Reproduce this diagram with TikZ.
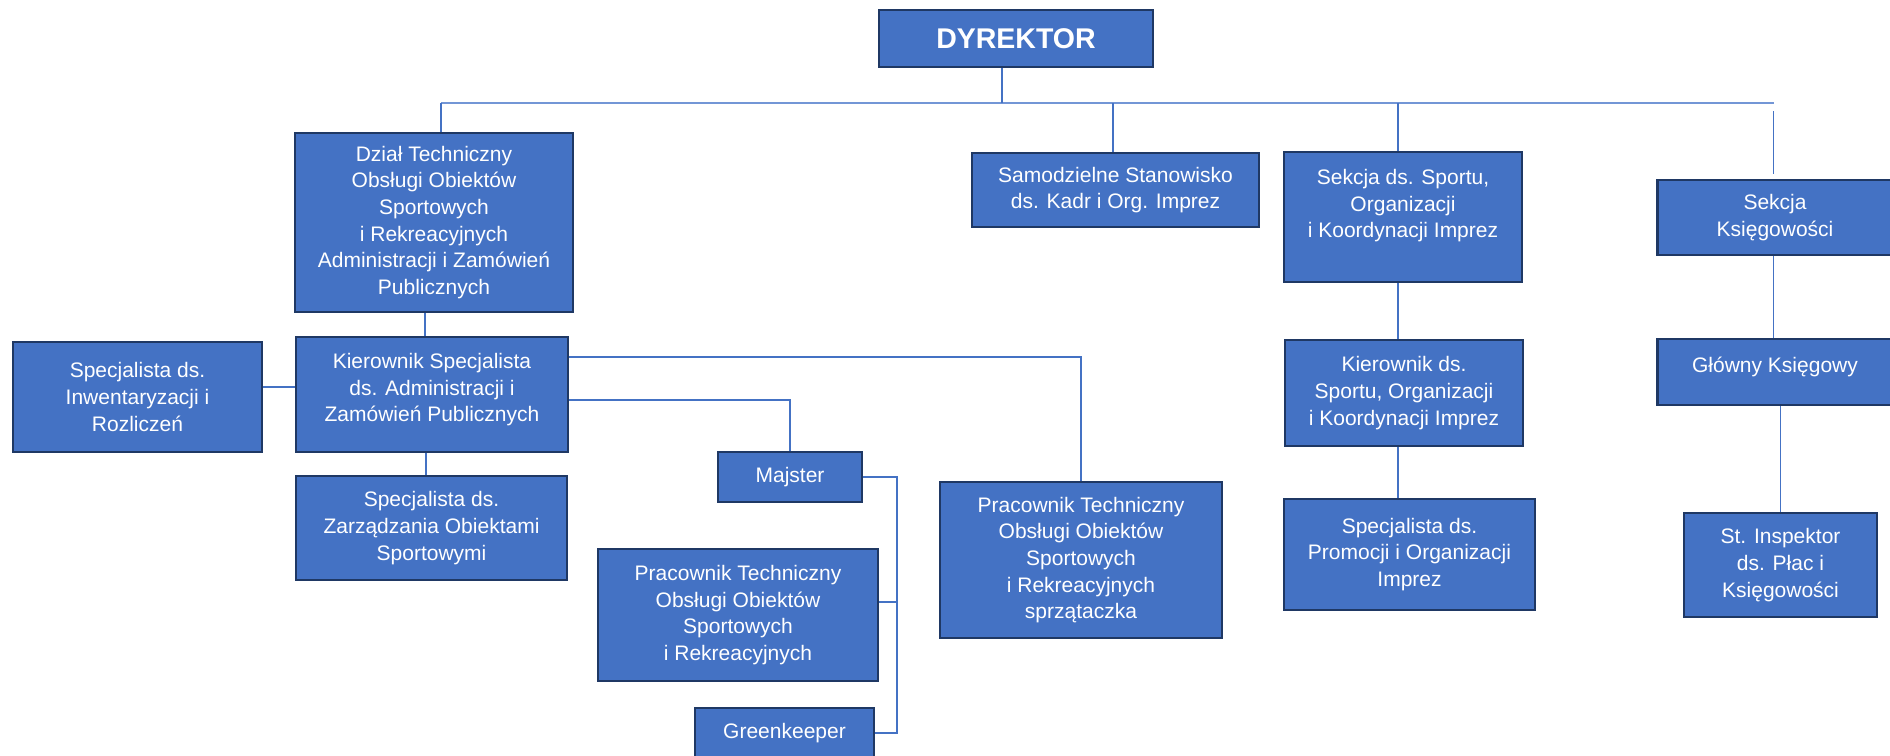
\documentclass[tikz,border=0pt]{standalone}
\usepackage{fontspec}
\setmainfont{Liberation Sans}
\definecolor{boxfill}{HTML}{4472C4}
\definecolor{boxline}{HTML}{1F3864}
\definecolor{conn}{HTML}{4472C4}
\definecolor{busconn}{HTML}{7396D6}
\begin{document}
\begin{tikzpicture}[x=0.5pt,y=-0.5pt,
  orgbox/.style={draw=boxline, line width=1.3pt, fill=boxfill, text=white, align=center,
    inner sep=0pt, font=\fontsize{10.5}{13.35}\selectfont},
  link/.style={draw=conn, line width=0.75pt},
  buslink/.style={draw=busconn, line width=1pt}]
\path[use as bounding box] (0,0) rectangle (1890,755);

% nodes
\node[orgbox, minimum width=137pt, minimum height=28.5pt, font=\bfseries\fontsize{14.25}{16}\selectfont] (dyr) at (1016,38.5) {DYREKTOR};
\node[orgbox, minimum width=139pt, minimum height=89.5pt] (dzial) at (434,222.5) {Dział Techniczny\\Obsługi Obiektów\\Sportowych\\ i Rekreacyjnych\\Administracji i Zamówień\\Publicznych};
\node[orgbox, minimum width=136pt, minimum height=57.5pt] (kier) at (432,394.5) {Kierownik Specjalista\\ds. Administracji i\\Zamówień Publicznych\\[-6.35pt]};
\node[orgbox, minimum width=124.5pt, minimum height=55pt] (inw) at (137.5,397) {Specjalista ds.\\Inwentaryzacji i\\Rozliczeń};
\node[orgbox, minimum width=135.5pt, minimum height=52pt] (zarz) at (431.5,528) {Specjalista ds.\\Zarządzania Obiektami\\Sportowymi};
\node[orgbox, minimum width=72pt, minimum height=25pt] (majster) at (790,477) {Majster};
\node[orgbox, minimum width=140pt, minimum height=66pt] (prac1) at (738,615) {Pracownik Techniczny\\Obsługi Obiektów\\Sportowych\\i Rekreacyjnych};
\node[orgbox, minimum width=89.5pt, minimum height=25pt] (green) at (784.5,733) {Greenkeeper};
\node[orgbox, minimum width=141pt, minimum height=78pt] (prac2) at (1081,560) {Pracownik Techniczny\\Obsługi Obiektów\\Sportowych\\i Rekreacyjnych\\sprzątaczka};
\node[orgbox, minimum width=143.5pt, minimum height=37pt] (samo) at (1115.5,190) {Samodzielne Stanowisko\\ds. Kadr i Org. Imprez};
\node[orgbox, minimum width=119pt, minimum height=65pt] (sekS) at (1403,217) {Sekcja ds. Sportu,\\Organizacji\\i Koordynacji Imprez\\ \mbox{}};
\node[orgbox, minimum width=119pt, minimum height=53pt] (kierS) at (1404,393) {Kierownik ds.\\Sportu, Organizacji\\i Koordynacji Imprez};
\node[orgbox, minimum width=125.5pt, minimum height=55.5pt] (promo) at (1409.5,554.5) {Specjalista ds.\\Promocji i Organizacji\\Imprez};
\node[orgbox, minimum width=117.5pt, minimum height=37.5pt] (sekK) at (1775,217.5) {Sekcja\\Księgowości};
\node[orgbox, minimum width=117.5pt, minimum height=33pt] (glowny) at (1775,372) {Główny Księgowy\\[-6.35pt]};
\node[orgbox, minimum width=96.5pt, minimum height=52pt] (insp) at (1780.5,565) {St. Inspektor\\ds. Płac i\\Księgowości};

% bus
\coordinate (busL) at (441,103);
\coordinate (busR) at (1774,103);
\coordinate (brk) at (897,477);
\draw[buslink] (busL) -- (busR);
\draw[link] ([xshift=-7pt]dyr.south) -- ([xshift=-7pt]dyr.south |- busL);
\draw[link] (busL) -- (busL |- dzial.north);
\draw[link] ([xshift=-1.25pt]samo.north) -- ([xshift=-1.25pt]samo.north |- busL);
\draw[link] ([xshift=-2.5pt]sekS.north) -- ([xshift=-2.5pt]sekS.north |- busL);
\draw[link, shorten <=2.5pt, shorten >=4pt] ([xshift=-0.75pt]sekK.north) -- ([xshift=-0.75pt]sekK.north |- busR);

% left branch
\draw[link] ([xshift=-4.5pt]dzial.south) -- ([xshift=-4.5pt]dzial.south |- kier.north);
\draw[link] ([yshift=5pt]inw.east) -- ([yshift=5pt]inw.east -| kier.west);
\draw[link] ([xshift=-3pt]kier.south) -- ([xshift=-3pt]kier.south |- zarz.north);
\draw[link] ([yshift=18.75pt]kier.east) -| (prac2.north);
\draw[link] ([yshift=-2.75pt]kier.east) -| (majster.north);
\draw[link] (majster.east) -- (brk) |- (green.east);
\draw[link] ([yshift=6.5pt]prac1.east) -- ([yshift=6.5pt]prac1.east -| brk);

% middle right branch
\draw[link] ([xshift=-2.5pt]sekS.south) -- ([xshift=-2.5pt]sekS.south |- kierS.north);
\draw[link] ([xshift=-3pt]kierS.south) -- ([xshift=-3pt]kierS.south |- promo.north);

% right branch
\draw[link] ([xshift=-0.75pt]sekK.south) -- ([xshift=-0.75pt]sekK.south |- glowny.north);
\draw[link] (insp.north) -- (insp.north |- glowny.south);
\end{tikzpicture}
\end{document}
